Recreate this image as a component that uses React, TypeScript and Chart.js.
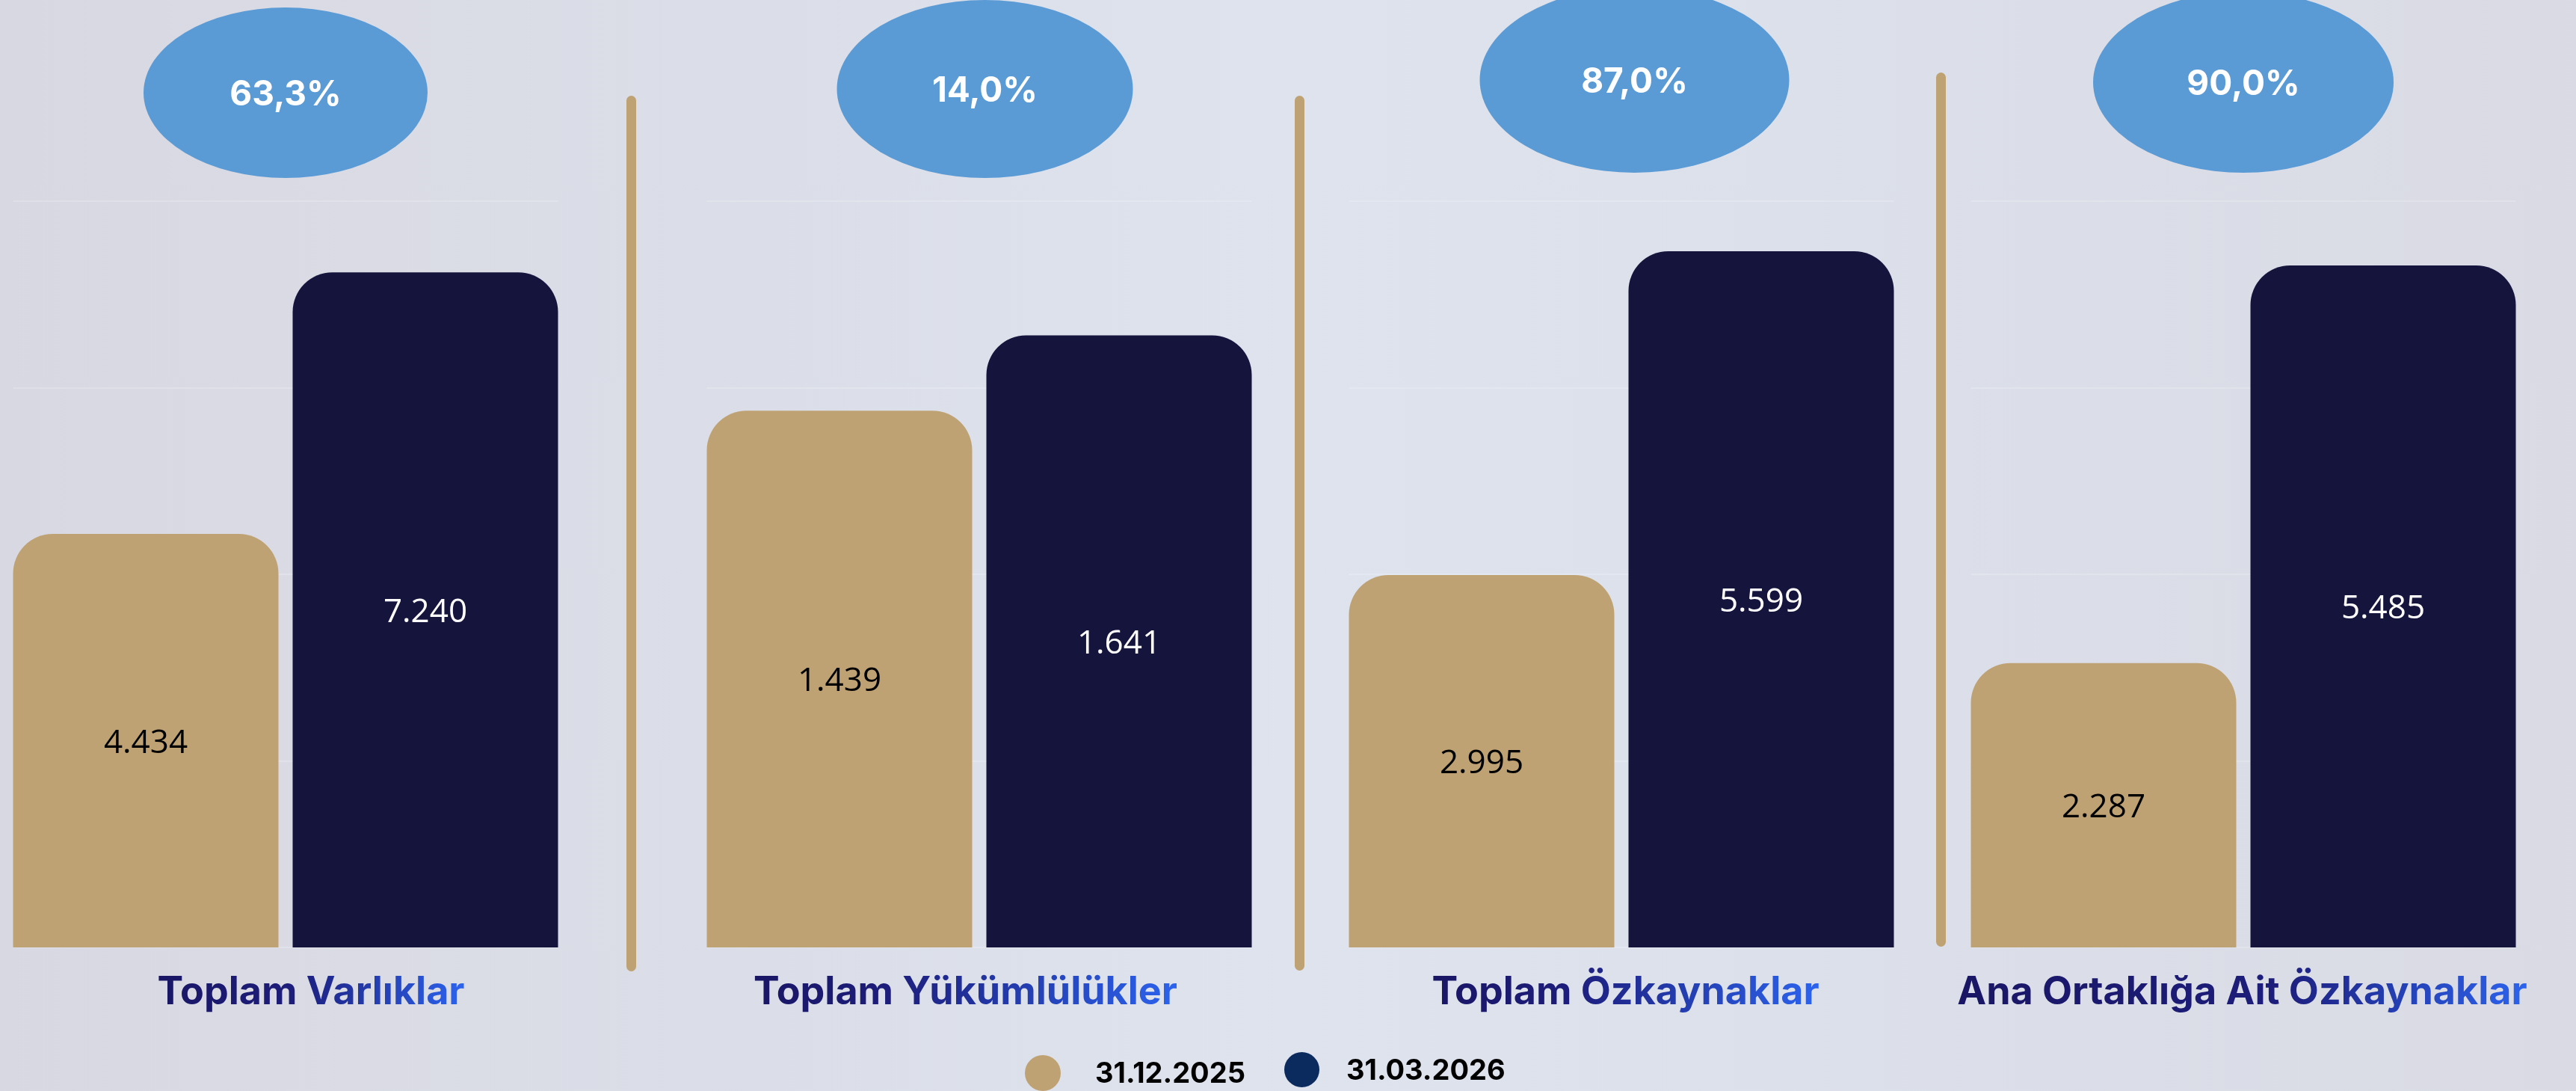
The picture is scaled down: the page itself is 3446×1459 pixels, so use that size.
import React, { useEffect, useRef } from 'react';
import { Chart, registerables } from 'chart.js';

Chart.register(...registerables);

// ---- data ----
const categories = ['Toplam Varlıklar', 'Toplam Yükümlülükler', 'Toplam Özkaynaklar', 'Ana Ortaklığa Ait Özkaynaklar'];
const categoryFirstWord = ['Toplam', 'Toplam', 'Toplam', 'Ana Ortaklığa Ait'];
const seriesLabels = ['31.12.2025', '31.03.2026'];
const values2025 = [4434, 1439, 2995, 2287];
const values2026 = [7240, 1641, 5599, 5485];
const changeLabels = ['63,3%', '14,0%', '87,0%', '90,0%'];
const axisMax = [10000, 2500, 7500, 7500];
const axisStep = [2000, 500, 1500, 1500];

// ---- layout / style ----
const W = 3446;
const H = 1459;
const GROUP_LEFT = [8, 935.5, 1794.5, 2626.5];
const SLOT_W = 748;
const PAD_X = 130;
const CANVAS_W = SLOT_W + PAD_X * 2;
const TOP_Y = 20;
const BASE_Y = 1267;
const TAN = '#BFA273';
const NAVY = '#15143D';
const LEGEND_NAVY = '#0B2A5E';
const ELLIPSE_BLUE = '#5B9BD5';
const GRID_COLOR = 'rgba(255,255,255,0.2)';
const ELLIPSES = [
  { dx: 0, cy: 124, rx: 190, ry: 114 },
  { dx: 7.5, cy: 119, rx: 198, ry: 119 },
  { dx: 17.5, cy: 107, rx: 207, ry: 124 },
  { dx: 0, cy: 110, rx: 201, ry: 121 },
];
const LABEL_DX = [34, -18.5, 5.5, -1.5];
const LABEL_BASELINE = 1343;
const SEPARATORS = [
  { x: 844, top: 128, bottom: 1299 },
  { x: 1738.5, top: 128, bottom: 1298 },
  { x: 2596, top: 97, bottom: 1266 },
];
const TITLE_FONT = '700 52px Inter';
const PCT_FONT = '700 46px Inter';
const VALUE_FONT = '400 44px "Open Sans"';

const fmt = (v: number) => String(Math.round(v)).replace(/\B(?=(\d{3})+(?!\d))/g, '.');

function makePlugin(g: number) {
  return {
    id: 'decor' + g,
    beforeDatasetsDraw(chart: any) {
      const ctx = chart.ctx as CanvasRenderingContext2D;
      const y = chart.scales.y;
      const b0 = chart.getDatasetMeta(0).data[0];
      const b1 = chart.getDatasetMeta(1).data[0];
      const left = b0.x - b0.width / 2;
      const right = b1.x + b1.width / 2;
      ctx.save();
      ctx.strokeStyle = GRID_COLOR;
      ctx.lineWidth = 2;
      y.ticks.forEach((t: any) => {
        if (t.value >= axisMax[g]) return;
        const py = Math.round(y.getPixelForValue(t.value));
        ctx.beginPath();
        ctx.moveTo(left, py);
        ctx.lineTo(right, py);
        ctx.stroke();
      });
      ctx.restore();
    },
    afterDatasetsDraw(chart: any) {
      const ctx = chart.ctx as CanvasRenderingContext2D;
      const b0 = chart.getDatasetMeta(0).data[0];
      const b1 = chart.getDatasetMeta(1).data[0];
      ctx.save();
      // value labels in the middle of each bar
      ctx.font = VALUE_FONT;
      ctx.textAlign = 'center';
      ctx.textBaseline = 'alphabetic';
      [b0, b1].forEach((b: any, i: number) => {
        const mid = (b.y + b.base) / 2;
        ctx.fillStyle = i === 0 ? '#000000' : '#FFFFFF';
        const v = chart.data.datasets[i].data[0];
        ctx.fillText(fmt(v), b.x, mid + 16);
      });
      // change ellipse
      const center = (b0.x - b0.width / 2 + b1.x + b1.width / 2) / 2;
      const e = ELLIPSES[g];
      ctx.fillStyle = ELLIPSE_BLUE;
      ctx.beginPath();
      ctx.ellipse(center + e.dx, e.cy, e.rx, e.ry, 0, 0, Math.PI * 2);
      ctx.fill();
      ctx.fillStyle = '#FFFFFF';
      ctx.font = PCT_FONT;
      ctx.fillText(changeLabels[g], center + e.dx, e.cy + 17);
      // category title with gradient
      ctx.font = TITLE_FONT;
      const title = chart.data.labels[0] as string;
      const tw = ctx.measureText(title).width;
      const tx = center + LABEL_DX[g] - tw / 2;
      const grad = ctx.createLinearGradient(tx, 0, tx + tw, 0);
      const firstW = ctx.measureText(categoryFirstWord[g]).width / tw;
      grad.addColorStop(0, '#1A1665');
      grad.addColorStop(Math.min(0.9, firstW), '#1D1E7C');
      grad.addColorStop(1, '#2C63EE');
      ctx.fillStyle = grad;
      ctx.textAlign = 'left';
      ctx.fillText(title, tx, LABEL_BASELINE);
      ctx.restore();
    },
  };
}

function makeConfig(g: number): any {
  const common = {
    categoryPercentage: 1,
    barPercentage: 355 / 374,
    borderRadius: 53,
    borderSkipped: 'start',
  };
  return {
    type: 'bar',
    data: {
      labels: [categories[g]],
      datasets: [
        { ...common, label: seriesLabels[0], data: [values2025[g]], backgroundColor: TAN },
        { ...common, label: seriesLabels[1], data: [values2026[g]], backgroundColor: NAVY },
      ],
    },
    options: {
      animation: false,
      responsive: false,
      devicePixelRatio: 1,
      events: [],
      layout: { padding: { left: PAD_X, right: PAD_X, top: TOP_Y, bottom: H - BASE_Y } },
      plugins: { legend: { display: false }, tooltip: { enabled: false } },
      scales: {
        x: { display: false, offset: true },
        y: { display: false, min: 0, max: axisMax[g], ticks: { stepSize: axisStep[g] } },
      },
    },
    plugins: [makePlugin(g)],
  };
}

export default function App() {
  const refs = [
    useRef<HTMLCanvasElement>(null),
    useRef<HTMLCanvasElement>(null),
    useRef<HTMLCanvasElement>(null),
    useRef<HTMLCanvasElement>(null),
  ];
  useEffect(() => {
    const charts = refs.map((r, g) => new Chart(r.current as HTMLCanvasElement, makeConfig(g)));
    return () => charts.forEach((c) => c.destroy());
  }, []);

  return (
    <div
      style={{
        position: 'fixed',
        left: 0,
        top: 0,
        width: W,
        height: H,
        overflow: 'hidden',
        background:
          'linear-gradient(90deg, #D8D8E2 0%, #DBDEE8 30%, #DEE3ED 50%, #DCE0EA 70%, #D9DAE4 100%)',
      }}
    >
      {SEPARATORS.map((s, i) => (
        <div
          key={'s' + i}
          style={{
            position: 'absolute',
            left: s.x - 6.5,
            top: s.top,
            width: 13,
            height: s.bottom - s.top,
            borderRadius: 7,
            background: TAN,
          }}
        />
      ))}
      {GROUP_LEFT.map((l, g) => (
        <canvas
          key={g}
          ref={refs[g]}
          width={CANVAS_W}
          height={H}
          style={{ position: 'absolute', left: l - PAD_X, top: 0, width: CANVAS_W, height: H }}
        />
      ))}
      <div style={{ position: 'absolute', left: 1371, top: 1411, width: 48, height: 48, borderRadius: '50%', background: TAN }} />
      <div style={{ position: 'absolute', left: 1465, top: 1410, font: '700 38px Inter', lineHeight: '48px', color: '#000', whiteSpace: 'nowrap' }}>
        {seriesLabels[0]}
      </div>
      <div style={{ position: 'absolute', left: 1718, top: 1407, width: 47, height: 47, borderRadius: '50%', background: LEGEND_NAVY }} />
      <div style={{ position: 'absolute', left: 1801, top: 1406, font: '700 38px Inter', lineHeight: '48px', color: '#000', whiteSpace: 'nowrap' }}>
        {seriesLabels[1]}
      </div>
    </div>
  );
}
